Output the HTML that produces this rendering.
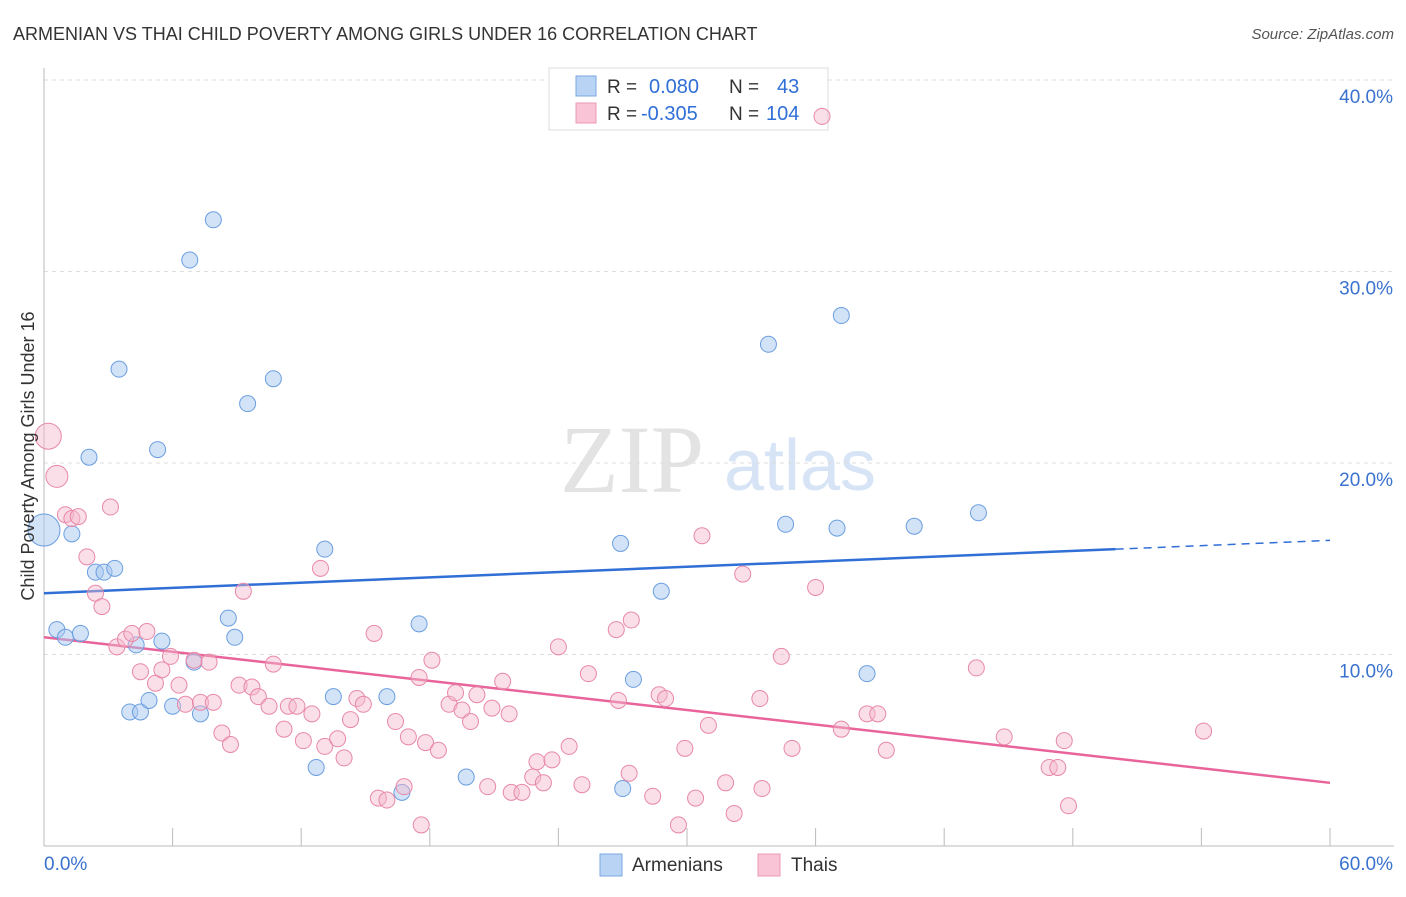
<!DOCTYPE html>
<html><head><meta charset="utf-8"><style>
body{margin:0;background:#fff;font-family:"Liberation Sans",sans-serif;}
</style></head><body>
<svg id="chart" width="1406" height="892" xmlns="http://www.w3.org/2000/svg" font-family="Liberation Sans, sans-serif">
<text x="13" y="40" font-size="18" fill="#333">ARMENIAN VS THAI CHILD POVERTY AMONG GIRLS UNDER 16 CORRELATION CHART</text>
<text x="1394" y="39" font-size="15" fill="#555" text-anchor="end" font-style="italic">Source: ZipAtlas.com</text>
<text x="632" y="492" font-size="96" fill="#e3e3e3" style="font-family:'Liberation Serif',serif" text-anchor="middle">ZIP</text>
<text x="800" y="490" font-size="72" fill="#d6e4f5" text-anchor="middle">atlas</text>
<g id="grid"></g>
<g id="axes"></g>
<g>
<rect x="549" y="68" width="279" height="62" fill="#fff" stroke="#ddd"/>
<rect x="576" y="76" width="20" height="20" fill="#b8d3f4" stroke="#7aa8e2"/>
<rect x="576" y="103" width="20" height="20" fill="#f8c4d6" stroke="#ec97b5"/>
<text x="607" y="93" font-size="19" fill="#333">R = </text><text x="649" y="93" font-size="20" fill="#2f6fd6">0.080</text>
<text x="729" y="93" font-size="19" fill="#333">N = </text><text x="777" y="93" font-size="20" fill="#2f6fd6">43</text>
<text x="607" y="120" font-size="19" fill="#333">R = </text><text x="641" y="120" font-size="20" fill="#2f6fd6">-0.305</text>
<text x="729" y="120" font-size="19" fill="#333">N = </text><text x="766" y="120" font-size="20" fill="#2f6fd6">104</text>
</g>
<g id="trend"></g>
<g id="points"></g>
<text transform="translate(34,456) rotate(-90)" font-size="18" fill="#333" text-anchor="middle">Child Poverty Among Girls Under 16</text>
<g>
<rect x="600" y="854" width="22" height="22" fill="#b8d3f4" stroke="#7aa8e2"/>
<text x="632" y="871" font-size="19" fill="#333">Armenians</text>
<rect x="758" y="854" width="22" height="22" fill="#f8c4d6" stroke="#ec97b5"/>
<text x="791" y="871" font-size="19" fill="#333">Thais</text>
</g>
</svg>
<script>
const xTicks=[0,6,12,18,24,30,36,42,48,54,60];
const yTicks=[10,20,30,40];
const yTickLabels=["10.0%","20.0%","30.0%","40.0%"];
const xTickLabels=["0.0%","60.0%"];
const armX=[0,1.3,0.6,1.0,1.7,2.4,2.8,3.3,2.1,3.5,5.3,4.3,5.5,7.0,4.0,4.5,4.9,6.0,7.3,6.8,7.9,8.6,8.9,9.5,10.7,13.1,13.5,12.7,16.0,16.7,17.5,19.7,26.9,27.5,27.0,28.8,33.8,34.6,37.2,37.0,40.6,43.6,38.4];
const armY=[16.5,16.3,11.3,10.9,11.1,14.3,14.3,14.5,20.3,24.9,20.7,10.5,10.7,9.6,7.0,7.0,7.6,7.3,6.9,30.6,32.7,11.9,10.9,23.1,24.4,15.5,7.8,4.1,7.8,2.8,11.6,3.6,15.8,8.7,3.0,13.3,26.2,16.8,27.7,16.6,16.7,17.4,9.0];
const thaiX=[0.2,0.6,1.0,1.3,1.6,2.0,2.4,2.7,3.1,3.4,3.8,4.1,4.8,4.5,5.2,5.5,5.9,6.3,6.6,7.0,7.3,7.7,7.9,8.3,8.7,9.1,9.3,9.7,10.0,10.5,10.7,11.2,11.4,11.8,12.1,12.5,12.9,13.1,13.7,14.0,14.3,14.6,14.9,15.4,15.6,16.0,16.4,16.8,17.0,17.5,17.6,17.8,18.1,18.4,18.9,19.2,19.5,19.9,20.2,20.7,20.9,21.4,21.7,21.8,22.3,22.8,23.0,23.3,23.7,24.0,24.5,25.1,25.4,26.7,26.8,27.3,27.4,28.4,28.7,29.0,29.6,29.9,30.4,30.7,31.0,31.8,32.2,32.6,33.4,33.5,34.4,34.9,36.0,36.3,37.2,38.4,38.9,39.3,43.5,44.8,46.9,47.3,47.6,47.8,54.1];
const thaiY=[21.4,19.3,17.3,17.1,17.2,15.1,13.2,12.5,17.7,10.4,10.8,11.1,11.2,9.1,8.5,9.2,9.9,8.4,7.4,9.7,7.5,9.6,7.5,5.9,5.3,8.4,13.3,8.3,7.8,7.3,9.5,6.1,7.3,7.3,5.5,6.9,14.5,5.2,5.6,4.6,6.6,7.7,7.4,11.1,2.5,2.4,6.5,3.1,5.7,8.8,1.1,5.4,9.7,5.0,7.4,8.0,7.1,6.5,7.9,3.1,7.2,8.6,6.9,2.8,2.8,3.6,4.4,3.3,4.5,10.4,5.2,3.2,9.0,11.3,7.6,3.8,11.8,2.6,7.9,7.7,1.1,5.1,2.5,16.2,6.3,3.3,1.7,14.2,7.7,3.0,9.9,5.1,13.5,38.1,6.1,6.9,6.9,5.0,9.3,5.7,4.1,4.1,5.5,2.1,6.0];
const armTrend=[13.2,15.5];
const thaiTrend=[10.9,3.3];
const NS="http://www.w3.org/2000/svg";
const X=v=>44+v*(1286/60);
const Y=v=>846-v*19.15;
function mk(tag,attrs,parent){const e=document.createElementNS(NS,tag);for(const k in attrs)e.setAttribute(k,attrs[k]);document.getElementById(parent).appendChild(e);return e;}
yTicks.forEach((t,i)=>{
  const g=mk('line',{x1:44,x2:1394,y1:Y(t),y2:Y(t),stroke:'#ddd','stroke-dasharray':'4,4'},'grid');
  
  
  const tx=mk('text',{x:1393,y:Y(t)+23,'font-size':19,fill:'#3a72d0','text-anchor':'end'},'axes');
  tx.textContent=yTickLabels[i];
  
  
});
const ya=mk('line',{x1:44,x2:44,y1:68,y2:846,stroke:'#bbb'},'axes');


const xa=mk('line',{x1:44,x2:1394,y1:846,y2:846,stroke:'#bbb'},'axes');


xTicks.forEach(t=>{
  const l=mk('line',{x1:X(t),x2:X(t),y1:828,y2:846,stroke:'#bbb'},'axes');
  
  
});
[[0,'start'],[60,'end']].forEach(([t,a],i)=>{
  const tx=mk('text',{x:i?1393:44,y:870,'font-size':19,fill:'#3a72d0','text-anchor':a},'axes');
  tx.textContent=xTickLabels[i];
  
  
});
armX.forEach((x,i)=>{
  const c=mk('circle',{cx:X(x),cy:Y(armY[i]),r:i===0?16:8,fill:'rgba(168,200,240,0.5)',stroke:'#6a9ee0','stroke-width':1},'points');
  
  
});
thaiX.forEach((x,i)=>{
  const c=mk('circle',{cx:X(x),cy:Y(thaiY[i]),r:i===0?13:(i===1?11:8),fill:'rgba(245,184,204,0.45)',stroke:'#e888a8','stroke-width':1},'points');
  
  
});
const slopeA=(armTrend[1]-armTrend[0])/50;
const bl=mk('line',{x1:X(0),y1:Y(armTrend[0]),x2:X(50),y2:Y(armTrend[1]),stroke:'#2f6fd6','stroke-width':2.5},'trend');


const bd=mk('line',{x1:X(50),y1:Y(armTrend[1]),x2:X(60),y2:Y(armTrend[0]+slopeA*60),stroke:'#2f6fd6','stroke-width':1.5,'stroke-dasharray':'8,6'},'trend');


const pl=mk('line',{x1:X(0),y1:Y(thaiTrend[0]),x2:X(60),y2:Y(thaiTrend[1]),stroke:'#e8649a','stroke-width':2.5},'trend');


</script>
</body></html>
